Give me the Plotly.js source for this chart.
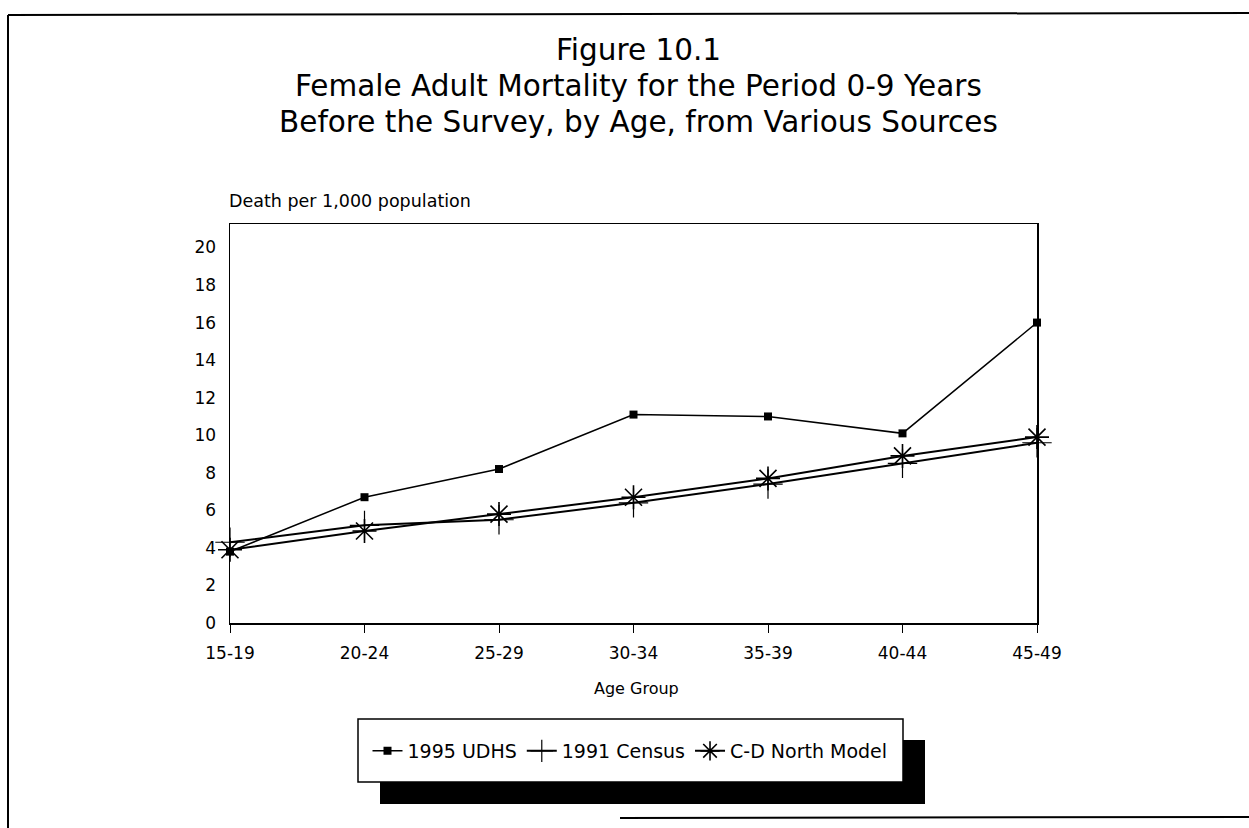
<!DOCTYPE html>
<html>
<head>
<meta charset="utf-8">
<script src="https://cdn.plot.ly/plotly-3.0.1.min.js"></script>
<style>html,body{margin:0;padding:0;background:#fff;}#chart{width:1249px;height:828px;}</style>
</head>
<body>
<div id="chart"></div>
<script>
// ---- data ----
const ageGroups = ['15-19','20-24','25-29','30-34','35-39','40-44','45-49'];
const udhs1995 = [3.8, 6.7, 8.2, 11.1, 11.0, 10.1, 16.0];
const census1991 = [4.3, 5.2, 5.5, 6.4, 7.4, 8.5, 9.6];
const cdNorthModel = [3.9, 4.9, 5.8, 6.7, 7.7, 8.9, 9.9];
const yTickVals = [0, 2, 4, 6, 8, 10, 12, 14, 16, 18, 20];
const seriesNames = ['1995 UDHS', '1991 Census', 'C-D North Model'];
const titleLines = ['Figure 10.1', 'Female Adult Mortality for the Period 0-9 Years', 'Before the Survey, by Age, from Various Sources'];
const yTitle = 'Death per 1,000 population';
const xTitle = 'Age Group';

// ---- layout geometry (pixels) ----
const W = 1249, H = 828;
const PL = 230, PR = 1037, PT = 224, PB = 623;
const X = px => (px - PL) / (PR - PL);
const Y = py => (PB - py) / (PB - PT);

const FONT = 'DejaVu Sans, Verdana, sans-serif';
const axisFont = {family: FONT, size: 17, color: '#000'};
const titleCenters = [50, 86, 122];

const traces = [
  {x: ageGroups, y: udhs1995, name: seriesNames[0], type: 'scatter', mode: 'lines+markers',
   line: {color: '#000', width: 1.5}, marker: {symbol: 'square', size: 8, color: '#000'}, cliponaxis: false},
  {x: ageGroups, y: census1991, name: seriesNames[1], type: 'scatter', mode: 'lines+markers',
   line: {color: '#000', width: 2}, marker: {symbol: 'cross-thin-open', size: 21, color: '#000', line: {width: 1.2, color: '#000'}}, cliponaxis: false},
  {x: ageGroups, y: cdNorthModel, name: seriesNames[2], type: 'scatter', mode: 'lines+markers',
   line: {color: '#000', width: 2}, marker: {symbol: 'asterisk-open', size: 20, color: '#000', line: {width: 1.6, color: '#000'}}, cliponaxis: false}
];

const annotations = titleLines.map((t, i) => ({
  text: t, xref: 'paper', yref: 'paper', x: X(638), y: Y(titleCenters[i]), xanchor: 'center', yanchor: 'middle',
  showarrow: false, font: {family: FONT, size: 29.5, color: '#000'}
}));
annotations.push(
  {text: yTitle, xref: 'paper', yref: 'paper', x: X(227), y: Y(201), xanchor: 'left', yanchor: 'middle', showarrow: false,
   font: {family: FONT, size: 17.5, color: '#000'}},
  {text: xTitle, xref: 'paper', yref: 'paper', x: X(636), y: Y(688), xanchor: 'center', yanchor: 'middle', showarrow: false,
   font: {family: FONT, size: 16, color: '#000'}}
);

const layout = {
  width: W, height: H,
  margin: {l: PL, r: W - PR, t: PT, b: H - PB, pad: 0},
  paper_bgcolor: '#fff', plot_bgcolor: '#fff',
  font: {family: FONT, color: '#000'},
  showlegend: true,
  legend: {orientation: 'h', x: X(630), y: Y(751), xanchor: 'center', yanchor: 'middle',
           bgcolor: 'rgba(0,0,0,0)', borderwidth: 0, font: {family: FONT, size: 19, color: '#000'},
           itemwidth: 30, tracegroupgap: 0},
  xaxis: {type: 'category', range: [0, 6], showgrid: false, zeroline: false, showline: true, linecolor: '#000', linewidth: 1.5,
          mirror: true, ticks: 'outside', ticklen: 8, tickcolor: '#000', tickwidth: 1, tickfont: axisFont, ticklabelstandoff: 6},
  yaxis: {range: [0, 21.25], tickvals: yTickVals, showgrid: false, zeroline: false, showline: true, linecolor: '#000', linewidth: 1.5,
          mirror: true, ticks: '', tickfont: axisFont, ticklabelstandoff: 9},
  annotations: annotations,
  shapes: [
    // page frame
    {type: 'line', xref: 'paper', yref: 'paper', x0: X(8), y0: Y(15), x1: X(1249), y1: Y(13), line: {color: '#000', width: 2}},
    {type: 'line', xref: 'paper', yref: 'paper', x0: X(8), y0: Y(15), x1: X(8), y1: Y(828), line: {color: '#000', width: 2}},
    {type: 'line', xref: 'paper', yref: 'paper', x0: X(620), y0: Y(818), x1: X(1249), y1: Y(817), line: {color: '#000', width: 2}},
    // legend shadow and box
    {type: 'rect', xref: 'paper', yref: 'paper', x0: X(380), y0: Y(740), x1: X(925), y1: Y(804), fillcolor: '#000', line: {width: 0}},
    {type: 'rect', xref: 'paper', yref: 'paper', x0: X(358), y0: Y(719), x1: X(903), y1: Y(782), fillcolor: '#fff', line: {color: '#000', width: 1.5}}
  ]
};

Plotly.newPlot('chart', traces, layout, {staticPlot: true, displayModeBar: false});
</script>
</body>
</html>
